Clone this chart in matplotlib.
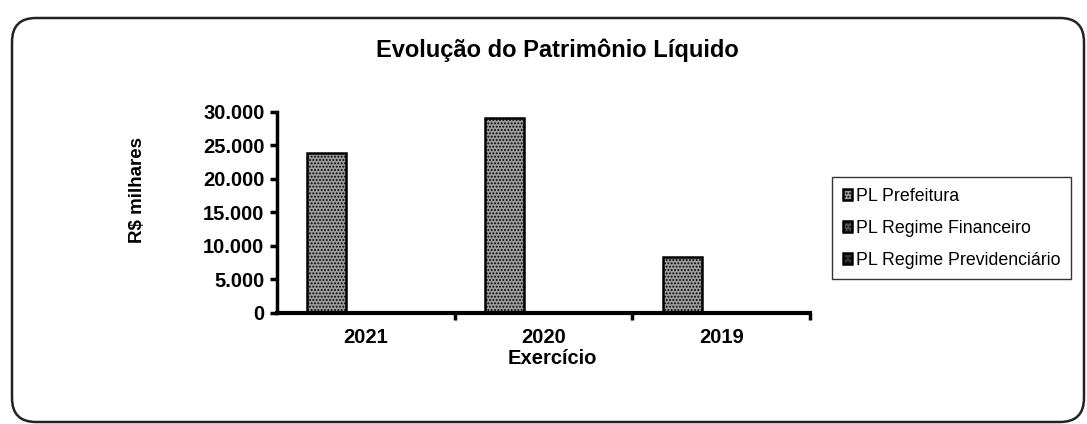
import matplotlib
matplotlib.use("Agg")
import matplotlib.pyplot as plt
from matplotlib.patches import FancyBboxPatch
from matplotlib.ticker import FuncFormatter, FixedLocator
import numpy as np

plt.rcParams['font.family'] = ['Liberation Sans', 'DejaVu Sans']
plt.rcParams['hatch.linewidth'] = 0.9

categories = ["2021", "2020", "2019"]
series_names = ["PL Prefeitura", "PL Regime Financeiro", "PL Regime Previdenciário"]
pl_prefeitura = [23900, 29100, 8300]
pl_financeiro = [0, 0, 0]
pl_previdenciario = [0, 0, 0]
series_values = [pl_prefeitura, pl_financeiro, pl_previdenciario]
yticks = [0, 5000, 10000, 15000, 20000, 25000, 30000]

W, H = 1087, 424
fig = plt.figure(figsize=(W / 100, H / 100), dpi=100)

# rounded frame
frame = FancyBboxPatch((12 / W, 2 / H), (1084 - 12) / W, (406 - 2) / H,
                       boxstyle="round,pad=0,rounding_size=0.022",
                       transform=fig.transFigure, fill=False,
                       edgecolor='#222222', linewidth=1.8,
                       mutation_aspect=W / H)
fig.patches.append(frame)

ax = fig.add_axes([277 / W, 1 - 313 / H, (810 - 277) / W, (313 - 111.7) / H])

x = np.arange(len(categories))
width = 0.22
faces = ['#9c9c9c', '#5a5a5a', '#333333']
hatches = ['.....', '.....', '....']
for i, (name, vals) in enumerate(zip(series_names, series_values)):
    ax.bar(x + (i - 1) * width, vals, width, label=name,
           facecolor=faces[i], edgecolor='black', linewidth=1.8,
           hatch=hatches[i])

ax.set_xlim(-0.5, len(categories) - 0.5)
ax.set_ylim(0, 30000)
ax.set_yticks(yticks)
ax.yaxis.set_major_formatter(FuncFormatter(lambda v, p: f"{int(v):,}".replace(",", ".")))
ax.set_xticks(x)
ax.set_xticklabels(categories)
ax.xaxis.set_minor_locator(FixedLocator([0.5, 1.5, 2.5]))
ax.tick_params(axis='x', which='major', length=0, pad=11)
ax.tick_params(axis='x', which='minor', length=5, width=2.5, direction='out')
ax.tick_params(axis='y', length=5, width=2.5, direction='out', pad=4)
for lab in ax.get_xticklabels() + ax.get_yticklabels():
    lab.set_fontweight('bold')
    lab.set_fontsize(14.5)

for s in ['top', 'right']:
    ax.spines[s].set_visible(False)
ax.spines['left'].set_linewidth(2.5)
ax.spines['bottom'].set_linewidth(3)

fig.text(137 / W, 1 - 190 / H, "R$ milhares", rotation=90,
         ha='center', va='center', fontsize=13.5, fontweight='bold')
fig.text(552 / W, 1 - 359 / H, "Exercício",
         ha='center', va='center', fontsize=14.5, fontweight='bold')

fig.text(557 / W, 1 - 50 / H, "Evolução do Patrimônio Líquido",
         ha='center', va='center', fontsize=17, fontweight='bold')

leg = ax.legend(loc='upper left', bbox_to_anchor=(832 / W, 1 - 177 / H),
                bbox_transform=fig.transFigure, frameon=True, fancybox=False,
                edgecolor='black', fontsize=12.75, handlelength=0.55, handleheight=0.55,
                handletextpad=0.2, labelspacing=0.85, borderpad=0.6,
                borderaxespad=0)
leg.get_frame().set_linewidth(1.0)

fig.savefig("out.png", dpi=100)
